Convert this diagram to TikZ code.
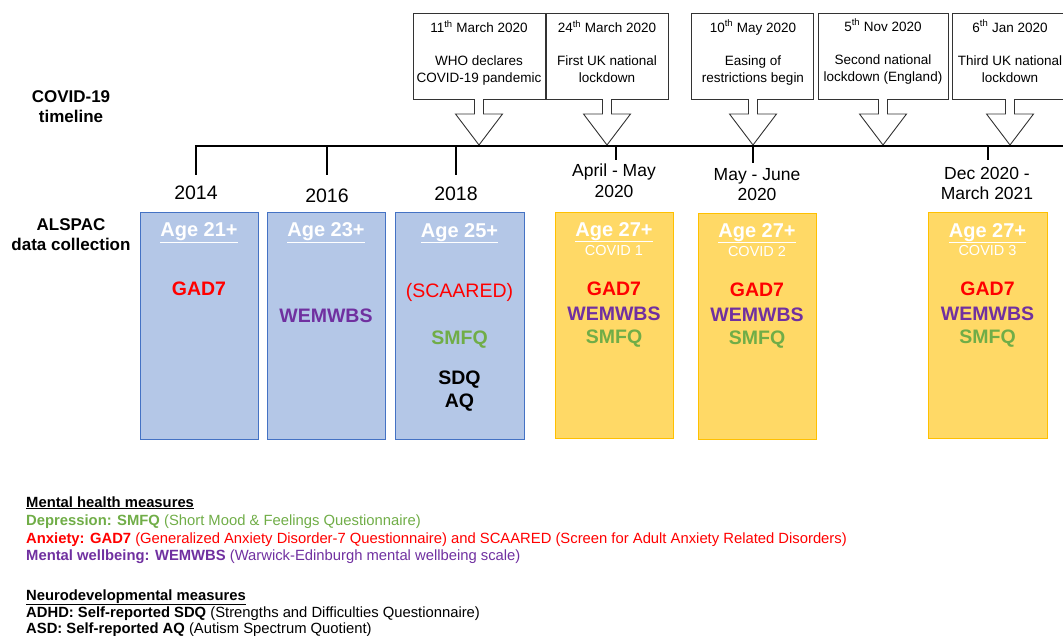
\documentclass[tikz,border=0pt]{standalone}
\usepackage{fontspec}
\setmainfont{Liberation Sans}
\usetikzlibrary{calc}
\definecolor{bluefill}{HTML}{B4C7E7}
\definecolor{blueline}{HTML}{4472C4}
\definecolor{yelfill}{HTML}{FFD966}
\definecolor{yelline}{HTML}{FFC000}
\definecolor{mred}{HTML}{FF0000}
\definecolor{mpurple}{HTML}{7030A0}
\definecolor{mgreen}{HTML}{70AD47}
\newcommand\blkdown[1]{%
  \draw[blk] ($(#1)+(-4.5,0)$) -- ($(#1)+(-4.5,15)$) -- ($(#1)+(-23.5,15)$) -- ($(#1)+(0,46)$)
    -- ($(#1)+(23.5,15)$) -- ($(#1)+(4.5,15)$) -- ($(#1)+(4.5,0)$);}
\begin{document}
\begin{tikzpicture}[x=1pt,y=-1pt,
  evbox/.style={draw=black!80, line width=0.9pt, fill=white, inner sep=0, anchor=north west, minimum height=86},
  evtxt/.style={anchor=base, inner sep=0, font=\fontsize{13.5}{16}\selectfont},
  blk/.style={draw=black!80, line width=0.9pt, fill=white, line join=miter},
  tline/.style={line width=2.5pt},
  sidelab/.style={anchor=base, inner sep=0, font=\fontsize{17}{20}\selectfont\bfseries},
  yearlab/.style={anchor=base, inner sep=0, font=\fontsize{19.5}{22}\selectfont},
  rangelab/.style={anchor=base, inner sep=0, font=\fontsize{17.5}{20}\selectfont},
  bluebox/.style={draw=blueline, fill=bluefill, line width=1.2pt, anchor=north west, inner sep=0, minimum height=227},
  yelbox/.style={draw=yelline, fill=yelfill, line width=1.2pt, anchor=north west, inner sep=0, minimum height=226},
  agelab/.style={anchor=base, inner sep=0, text=white, font=\fontsize{20}{22}\selectfont\bfseries},
  covlab/.style={anchor=base, inner sep=0, text=white, font=\fontsize{14.5}{16}\selectfont},
  meas/.style={anchor=base, inner sep=0, font=\fontsize{19.5}{22}\selectfont\bfseries},
  leg/.style={anchor=base west, inner sep=0, font=\fontsize{14.8}{17}\selectfont}
]
\useasboundingbox (0,0) rectangle (1063,635);
\clip (0,0) rectangle (1063,635);

% side labels
\node[sidelab] (sl1) at (71,102) {COVID-19};
\node[sidelab] (sl2) at (71,122) {timeline};
\node[sidelab] (sl3) at (71,230) {ALSPAC};
\node[sidelab] (sl4) at (71,250) {data collection};

% event boxes
\node[evbox, minimum width=132] (ev1) at (413,13) {};
\node[evbox, minimum width=122] (ev2) at (546,13) {};
\node[evbox, minimum width=122] (ev3) at (691,13) {};
\node[evbox, minimum width=130] (ev4) at (818,13) {};
\node[evbox, minimum width=130] (ev5) at (952,13) {};

\node[evtxt] (e1a) at (479,32.5) {11\textsuperscript{th} March 2020};
\node[evtxt] (e1b) at (479,65.5) {WHO declares};
\node[evtxt] (e1c) at (479,82.5) {COVID-19 pandemic};
\node[evtxt] (e2a) at (607,32.5) {24\textsuperscript{th} March 2020};
\node[evtxt] (e2b) at (607,65.5) {First UK national};
\node[evtxt] (e2c) at (607,82.5) {lockdown};
\node[evtxt] (e3a) at (753,32) {10\textsuperscript{th} May 2020};
\node[evtxt] (e3b) at (753,65) {Easing of};
\node[evtxt] (e3c) at (753,82) {restrictions begin};
\node[evtxt] (e4a) at (883,31) {5\textsuperscript{th} Nov 2020};
\node[evtxt] (e4b) at (883,64) {Second national};
\node[evtxt] (e4c) at (883,81.5) {lockdown (England)};
\node[evtxt] (e5a) at (1010,32) {6\textsuperscript{th} Jan 2020};
\node[evtxt] (e5b) at (1010,65.5) {Third UK national};
\node[evtxt] (e5c) at (1010,82.5) {lockdown};

% block arrows
\coordinate (a1) at (479,99);
\coordinate (a2) at (607,99);
\coordinate (a3) at (753,99);
\coordinate (a4) at (883,99);
\coordinate (a5) at (1010,99);
\blkdown{a1}\blkdown{a2}\blkdown{a3}\blkdown{a4}\blkdown{a5}

% timeline
\coordinate (tl0) at (196,146);
\coordinate (tlend) at (1063,146);
\draw[tline] ($(tl0)+(-1.25,0)$) -- (tlend);
\coordinate (k1) at (196,146);
\coordinate (k2) at (327,146);
\coordinate (k3) at (456,146);
\coordinate (k4) at (616,146);
\coordinate (k5) at (753,146);
\coordinate (k6) at (988,146);
\draw[tline] (k1) -- ++(0,29);
\draw[tline] (k2) -- ++(0,29);
\draw[tline] (k3) -- ++(0,29);
\draw[tline] (k4) -- ++(0,14);
\draw[tline] (k5) -- ++(0,17);
\draw[tline] (k6) -- ++(0,14);

\node[yearlab] (y1) at (196,199) {2014};
\node[yearlab] (y2) at (327,202) {2016};
\node[yearlab] (y3) at (456,200) {2018};
\node[rangelab] (y4a) at (614,176.5) {April - May};
\node[rangelab] (y4b) at (614,197) {2020};
\node[rangelab] (y5a) at (757,180) {May - June};
\node[rangelab] (y5b) at (757,200) {2020};
\node[rangelab] (y6a) at (987,179.5) {Dec 2020 -};
\node[rangelab] (y6b) at (987,199) {March 2021};

% data boxes
\node[bluebox, minimum width=118] (d1) at (140,212) {};
\node[bluebox, minimum width=118] (d2) at (267,212) {};
\node[bluebox, minimum width=129] (d3) at (395,212) {};
\node[yelbox, minimum width=118] (d4) at (555,212) {};
\node[yelbox, minimum width=118] (d5) at (698,213) {};
\node[yelbox, minimum width=119] (d6) at (928,212) {};

\node[agelab] (g1) at (199,236.5) {\underline{Age 21+}};
\node[meas, text=mred] (m1) at (199,295) {GAD7};

\node[agelab] (g2) at (326,236.5) {\underline{Age 23+}};
\node[meas, text=mpurple] (m2) at (326,322) {WEMWBS};

\node[agelab] (g3) at (459.5,237) {\underline{Age 25+}};
\node[meas, text=mred, font=\fontsize{19.5}{22}\selectfont] (m3a) at (459.5,297) {(SCAARED)};
\node[meas, text=mgreen] (m3b) at (459.5,344) {SMFQ};
\node[meas] (m3c) at (459.5,384) {SDQ};
\node[meas] (m3d) at (459.5,407) {AQ};

\node[agelab] (g4) at (614,236) {\underline{Age 27+}};
\node[covlab] (c4) at (614,255) {COVID 1};
\node[meas, text=mred] (m4a) at (614,295) {GAD7};
\node[meas, text=mpurple] (m4b) at (614,320) {WEMWBS};
\node[meas, text=mgreen] (m4c) at (614,343) {SMFQ};

\node[agelab] (g5) at (757,237) {\underline{Age 27+}};
\node[covlab] (c5) at (757,256) {COVID 2};
\node[meas, text=mred] (m5a) at (757,296) {GAD7};
\node[meas, text=mpurple] (m5b) at (757,321) {WEMWBS};
\node[meas, text=mgreen] (m5c) at (757,344) {SMFQ};

\node[agelab] (g6) at (987.5,237) {\underline{Age 27+}};
\node[covlab] (c6) at (987.5,255) {COVID 3};
\node[meas, text=mred] (m6a) at (987.5,295) {GAD7};
\node[meas, text=mpurple] (m6b) at (987.5,320) {WEMWBS};
\node[meas, text=mgreen] (m6c) at (987.5,343) {SMFQ};

% legend
\node[leg] (l1) at (26,507) {\underline{\textbf{Mental health measures}}};
\node[leg, text=mgreen] (l2) at (26,525) {\textbf{Depression: SMFQ} (Short Mood \& Feelings Questionnaire)};
\node[leg, text=mred] (l3) at (26,543) {\textbf{Anxiety: GAD7} (Generalized Anxiety Disorder-7 Questionnaire) and SCAARED (Screen for Adult Anxiety Related Disorders)};
\node[leg, text=mpurple] (l4) at (26,560) {\textbf{Mental wellbeing: WEMWBS} (Warwick-Edinburgh mental wellbeing scale)};
\node[leg] (l5) at (26,600) {\underline{\textbf{Neurodevelopmental measures}}};
\node[leg] (l6) at (26,617) {\textbf{ADHD: Self-reported SDQ} (Strengths and Difficulties Questionnaire)};
\node[leg] (l7) at (26,633) {\textbf{ASD: Self-reported AQ} (Autism Spectrum Quotient)};
\end{tikzpicture}
\end{document}
